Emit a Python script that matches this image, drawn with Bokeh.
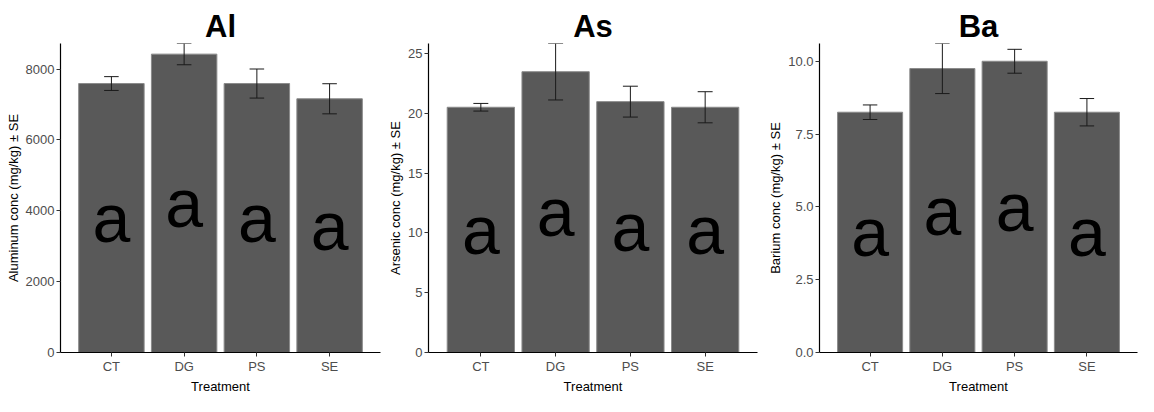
from bokeh.plotting import figure
from bokeh.layouts import row
from bokeh.models import ColumnDataSource, FactorRange, Range1d, FixedTicker, NumeralTickFormatter, BasicTickFormatter
from bokeh.transform import dodge
from bokeh.core.properties import value
from bokeh.embed import file_html
from bokeh.resources import INLINE

treatments = ["CT", "DG", "PS", "SE"]
letters = ["a", "a", "a", "a"]
x_title = "Treatment"

al_mean = [7590, 8420, 7590, 7160]
al_se = [195, 300, 410, 425]
as_mean = [20.5, 23.47, 20.97, 20.5]
as_se = [0.32, 2.36, 1.29, 1.3]
ba_mean = [8.25, 9.75, 10.0, 8.25]
ba_se = [0.25, 0.86, 0.41, 0.47]

al_ticks = [0, 2000, 4000, 6000, 8000]
as_ticks = [0, 5, 10, 15, 20, 25]
ba_ticks = [0.0, 2.5, 5.0, 7.5, 10.0]

FONT = "Liberation Sans"
BAR = "#595959"


def panel(title, ylabel, means, ses, ticks, fmt, width, mb_left, mb_right, mb_top):
    upper = [m + s for m, s in zip(means, ses)]
    lower = [m - s for m, s in zip(means, ses)]
    src = ColumnDataSource(dict(
        cat=treatments, mean=means, upper=upper, lower=lower,
        half=[m / 2 for m in means], lab=letters,
    ))
    xr = FactorRange(factors=treatments, range_padding=0.2, range_padding_units="absolute")
    p = figure(x_range=xr, y_range=Range1d(0, max(upper)), width=width, height=396,
               output_backend="svg", toolbar_location=None,
               min_border_left=mb_left, min_border_right=mb_right,
               min_border_top=mb_top, min_border_bottom=0)
    p.vbar(x="cat", top="mean", width=0.9, source=src, fill_color=BAR,
           line_color="#8a8a8a", line_width=1)
    p.segment(x0="cat", x1="cat", y0="lower", y1="upper", source=src,
              line_color="#1a1a1a", line_width=1)
    for key in ("upper", "lower"):
        p.segment(x0=dodge("cat", -0.1, range=xr), x1=dodge("cat", 0.1, range=xr),
                  y0=key, y1=key, source=src, line_color="#1a1a1a", line_width=1)
    p.text(x="cat", y="half", text="lab", source=src, text_font=value(FONT),
           text_font_size="68px", text_align="center", text_baseline="middle",
           text_color="black")

    p.title.text = title
    p.title.text_font = FONT
    p.title.text_font_size = "31px"
    p.title.text_font_style = "bold"
    p.title.align = "center"
    p.title.standoff = 0
    p.title.text_color = "black"

    p.xgrid.visible = False
    p.ygrid.visible = False
    p.outline_line_color = None
    p.background_fill_color = "white"
    p.border_fill_color = "white"

    p.yaxis.ticker = FixedTicker(ticks=ticks)
    p.yaxis.formatter = fmt
    p.xaxis.axis_label = x_title
    p.yaxis.axis_label = ylabel
    for ax in (p.xaxis, p.yaxis):
        ax.axis_line_color = "black"
        ax.axis_line_width = 1.2
        ax.major_tick_line_color = "#333333"
        ax.major_tick_line_width = 1
        ax.major_tick_out = 4
        ax.major_tick_in = 0
        ax.minor_tick_line_color = None
        ax.major_label_text_font = FONT
        ax.major_label_text_font_size = "13px"
        ax.major_label_text_color = "#4d4d4d"
        ax.major_label_standoff = 2
        ax.axis_label_text_font = FONT
        ax.axis_label_text_font_size = "13px"
        ax.axis_label_text_font_style = "normal"
        ax.axis_label_text_color = "black"
        ax.axis_label_standoff = 2
    return p


p1 = panel("Al", "Aluminum conc (mg/kg) ± SE", al_mean, al_se, al_ticks,
           BasicTickFormatter(use_scientific=False), 381, 60, 1, 40)
p2 = panel("As", "Arsenic conc (mg/kg) ± SE", as_mean, as_se, as_ticks,
           BasicTickFormatter(use_scientific=False), 378, 47, 2, 43)
p3 = panel("Ba", "Barium conc (mg/kg) ± SE", ba_mean, ba_se, ba_ticks,
           NumeralTickFormatter(format="0.0"), 379, 60, 1, 43)

layout = row(p1, p2, p3)
open("out.html", "w").write(file_html(layout, INLINE))
